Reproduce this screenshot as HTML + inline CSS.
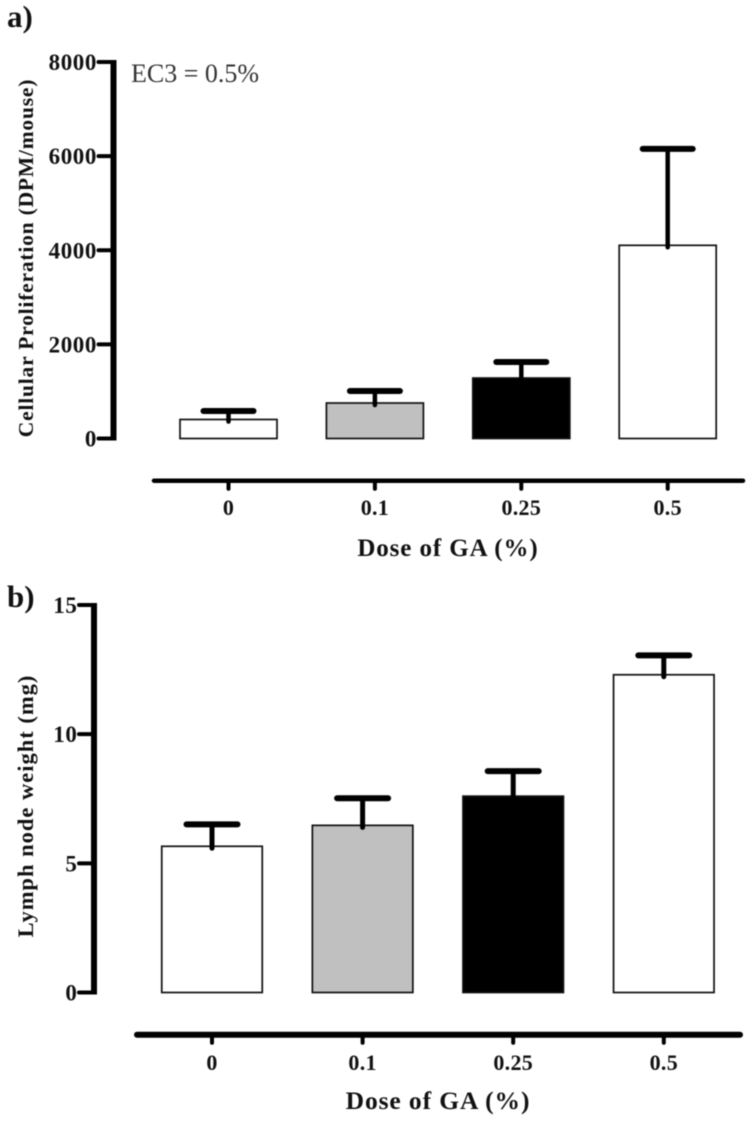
<!DOCTYPE html>
<html lang="en">
<head>
<meta charset="utf-8">
<title>Dose of GA charts</title>
<style>
html,body{margin:0;padding:0;background:#fff;width:756px;height:1128px;overflow:hidden}
svg{display:block;filter:blur(0.45px)}
text{font-family:"Liberation Serif",serif;font-weight:bold;fill:#111}
</style>
</head>
<body>
<svg id="chart" width="756" height="1128" viewBox="0 0 756 1128" xmlns="http://www.w3.org/2000/svg"></svg>
<script>
var categories = ['0', '0.1', '0.25', '0.5'];
var barFills = ['#ffffff', '#c0c0c0', '#000000', '#ffffff'];

var proliferationMeans = [404, 754, 1285, 4105];
var proliferationUppers = [584, 1010, 1625, 6155];
var proliferationTicks = [0, 2000, 4000, 6000, 8000];

var weightMeans = [5.66, 6.47, 7.6, 12.3];
var weightUppers = [6.51, 7.52, 8.57, 13.05];
var weightTicks = [0, 5, 10, 15];

var svg = document.getElementById('chart');
var NS = 'http://www.w3.org/2000/svg';

function add(parent, tag, attrs, text) {
  var el = document.createElementNS(NS, tag);
  for (var k in attrs) el.setAttribute(k, attrs[k]);
  if (text !== undefined) el.textContent = text;
  parent.appendChild(el);
  return el;
}

function drawPanel(cfg) {
  var group = add(svg, 'g', {});
  
  

  function yScale(v) { return cfg.y0 + (cfg.yTop - cfg.y0) * v / cfg.yMax; }
  function xScale(i) { return cfg.x0 + cfg.xStep * i; }

  // y axis line
  var yLine = add(group, 'line', {x1: cfg.axisX, x2: cfg.axisX, y1: yScale(cfg.yMax) - 2, y2: yScale(0) + 2, stroke: '#000', 'stroke-width': cfg.axisW});
  
  

  cfg.ticks.forEach(function (t) {
    var tick = add(group, 'line', {x1: cfg.axisX - 15, x2: cfg.axisX, y1: yScale(t), y2: yScale(t), stroke: '#000', 'stroke-width': 4, 'stroke-linecap': 'round'});
    
    
    var label = add(group, 'text', {x: cfg.axisX - 16.5, y: yScale(t) + 8, 'text-anchor': 'end', 'font-size': cfg.tickFont, 'letter-spacing': '0.6'}, String(t));
    
    
  });

  // x axis line
  var xLine = add(group, 'line', {x1: cfg.xAxisL, x2: cfg.xAxisR, y1: cfg.xAxisY, y2: cfg.xAxisY, stroke: '#000', 'stroke-width': cfg.xAxisW, 'stroke-linecap': 'round'});
  
  

  categories.forEach(function (c, i) {
    var cx = xScale(i);
    var top = yScale(cfg.means[i]);
    var capY = yScale(cfg.uppers[i]);

    var bar = add(group, 'rect', {x: cx - cfg.barW / 2, y: top, width: cfg.barW, height: yScale(0) - top, fill: barFills[i], stroke: '#111', 'stroke-width': 1.7});
    
    

    var stem = add(group, 'line', {x1: cx, x2: cx, y1: capY, y2: top + 2, stroke: '#000', 'stroke-width': cfg.stemW, 'stroke-linecap': 'round'});
    
    
    var cap = add(group, 'line', {x1: cx - cfg.capHalf, x2: cx + cfg.capHalf, y1: capY, y2: capY, stroke: '#000', 'stroke-width': 6, 'stroke-linecap': 'round'});
    
    

    var xTick = add(group, 'line', {x1: cx, x2: cx, y1: cfg.xAxisY, y2: cfg.xAxisY + 8, stroke: '#000', 'stroke-width': 4, 'stroke-linecap': 'round'});
    
    
    var xLabel = add(group, 'text', {x: cx, y: cfg.xLabelY, 'text-anchor': 'middle', 'font-size': 22, 'letter-spacing': '0.3'}, c);
    
    
  });

  var xTitle = add(group, 'text', {x: cfg.xTitleX, y: cfg.xTitleY, 'text-anchor': 'middle', 'font-size': cfg.xTitleFont, 'letter-spacing': '0.9'}, 'Dose of GA (%)');
  
  

  var yTitle = add(group, 'text', {x: 0, y: 0, 'text-anchor': 'middle', 'font-size': cfg.yTitleFont, 'letter-spacing': cfg.yTitleSpacing, transform: 'translate(' + cfg.yTitleX + ',' + cfg.yTitleY + ') rotate(-90)'}, cfg.yTitle);
  
  

  var panelLabel = add(group, 'text', {x: 7, y: cfg.panelY, 'font-size': 31}, cfg.panel);
  
  
}

drawPanel({
  name: 'proliferation-chart', panel: 'a)', panelY: 27,
  means: proliferationMeans, uppers: proliferationUppers, ticks: proliferationTicks,
  y0: 438.5, yTop: 62, yMax: 8000, axisX: 113.5, axisW: 6, tickFont: 23,
  x0: 228.5, xStep: 146.4, barW: 97, capHalf: 25, stemW: 4.5,
  xAxisL: 154, xAxisR: 743, xAxisY: 480.7, xAxisW: 4.5, xLabelY: 515,
  xTitleX: 448, xTitleY: 556, xTitleFont: 25,
  yTitle: 'Cellular Proliferation (DPM/mouse)', yTitleX: 33, yTitleY: 258, yTitleFont: 21.5, yTitleSpacing: '0.8'
});

drawPanel({
  name: 'lymph-node-chart', panel: 'b)', panelY: 607,
  means: weightMeans, uppers: weightUppers, ticks: weightTicks,
  y0: 992.5, yTop: 605, yMax: 15, axisX: 94, axisW: 6, tickFont: 23,
  x0: 212, xStep: 150.6, barW: 100.5, capHalf: 25.5, stemW: 5,
  xAxisL: 137, xAxisR: 740, xAxisY: 1034.7, xAxisW: 6, xLabelY: 1070,
  xTitleX: 438, xTitleY: 1109, xTitleFont: 25.5,
  yTitle: 'Lymph node weight (mg)', yTitleX: 33, yTitleY: 806, yTitleFont: 22.5, yTitleSpacing: '1'
});

var note = add(svg, 'text', {x: 131, y: 82, 'font-size': 26, style: 'font-weight:normal;fill:#333'}, 'EC3 = 0.5%');


</script>
</body>
</html>
